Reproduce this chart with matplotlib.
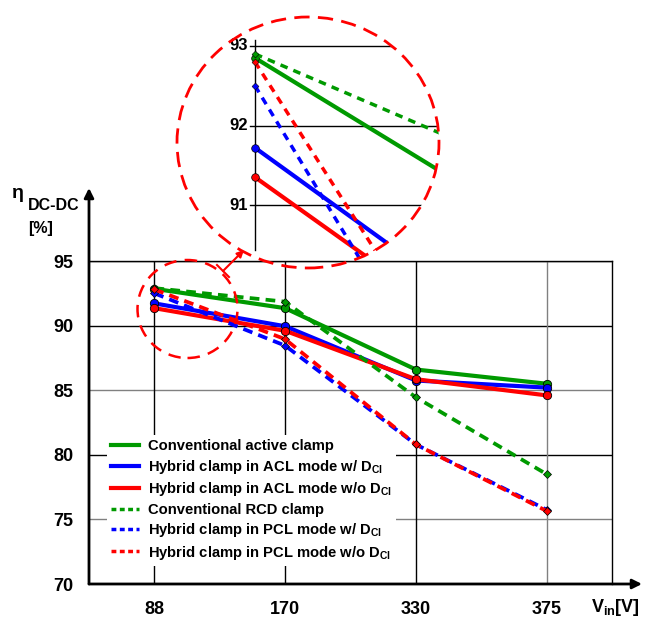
import matplotlib
matplotlib.use("Agg")
import matplotlib.pyplot as plt
from matplotlib.lines import Line2D
from matplotlib.patches import Ellipse, FancyArrowPatch
import numpy as np

plt.rcParams['font.family'] = ['Liberation Sans', 'DejaVu Sans']
plt.rcParams['font.weight'] = 'bold'
plt.rcParams['mathtext.fontset'] = 'custom'
plt.rcParams['mathtext.rm'] = 'Liberation Sans:bold'
plt.rcParams['mathtext.bf'] = 'Liberation Sans:bold'
plt.rcParams['mathtext.it'] = 'Liberation Sans:bold'
plt.rcParams['mathtext.default'] = 'rm'
plt.rcParams['lines.scale_dashes'] = False

# ---------------- data ----------------
categories = ['88', '170', '330', '375']
conv_active = [92.85, 91.35, 86.6, 85.5]
hyb_acl_w = [91.72, 89.95, 85.75, 85.2]
hyb_acl_wo = [91.35, 89.6, 85.85, 84.6]
conv_rcd = [92.9, 91.85, 84.45, 78.5]
hyb_pcl_w = [92.5, 88.45, 80.8, 75.75]
hyb_pcl_wo = [92.8, 88.95, 80.8, 75.65]
yticks = [70, 75, 80, 85, 90, 95]
inset_ticks = [91, 92, 93]

labels = ['Conventional active clamp',
          r'Hybrid clamp in ACL mode w/ D$_{Cl}$',
          r'Hybrid clamp in ACL mode w/o D$_{Cl}$',
          'Conventional RCD clamp',
          r'Hybrid clamp in PCL mode w/ D$_{Cl}$',
          r'Hybrid clamp in PCL mode w/o D$_{Cl}$']

GREEN = '#009A00'
BLUE = '#0000FF'
RED = '#FF0000'

W, H = 646, 619
fig = plt.figure(figsize=(W / 100, H / 100), dpi=100)


def fx(px):
    return px / W


def fy(py):
    return 1 - py / H


# ---------------- main axes ----------------
L, R, T, B = 89, 612, 261, 584
ax = fig.add_axes([fx(L), fy(B), fx(R) - fx(L), fy(T) - fy(B)])
x = np.arange(len(categories))
ax.set_xlim(-0.5, 3.5)
ax.set_ylim(70, 95)

# grid
grid_gray = '#808080'
for yv in yticks[1:]:
    c = grid_gray if yv in (75, 85) else 'black'
    ax.axhline(yv, color=c, lw=1.0, zorder=1)
for i in x:
    c = grid_gray if i == 3 else 'black'
    ax.axvline(i, color=c, lw=1.0, zorder=1)

for s in ['left', 'bottom']:
    ax.spines[s].set_visible(False)
ax.spines['top'].set_linewidth(1.0)
ax.spines['right'].set_linewidth(1.0)
ax.tick_params(length=0, labelsize=13, pad=0)
ax.set_xticks(x)
ax.set_xticklabels(categories, fontsize=13, fontweight='bold')
ax.set_yticks(yticks)
ax.set_yticklabels([str(v) for v in yticks], fontsize=13, fontweight='bold')
ax.tick_params(axis='x', pad=12)
ax.tick_params(axis='y', pad=11)

solid_kw = dict(lw=3.0, marker='o', ms=6, mec='black', mew=0.6, solid_capstyle='butt')
dash_kw = dict(lw=2.7, marker='D', ms=4.2, mec='black', mew=0.5, dashes=(7.0, 4.5),
               dash_capstyle='butt')

series = [
    (conv_active, GREEN, solid_kw),
    (hyb_acl_w, BLUE, solid_kw),
    (hyb_acl_wo, RED, solid_kw),
    (conv_rcd, GREEN, dash_kw),
    (hyb_pcl_w, BLUE, dash_kw),
    (hyb_pcl_wo, RED, dash_kw),
]
for vals, col, kw in series:
    ax.plot(x, vals, color=col, mfc=col, zorder=3, clip_on=False, **kw)

# axis arrows
arrow_kw = dict(arrowstyle='-|>', lw=2.0, color='black', mutation_scale=14, shrinkA=0, shrinkB=0)
fig.add_artist(FancyArrowPatch((fx(L), fy(B)), (fx(L), fy(188)),
                               transform=fig.transFigure, **arrow_kw))
fig.add_artist(FancyArrowPatch((fx(L), fy(B)), (fx(642), fy(B)),
                               transform=fig.transFigure, **arrow_kw))

# axis labels
fig.text(fx(12), fy(193), 'η', fontsize=14, fontweight='bold', ha='left', va='center')
fig.text(fx(28), fy(205), 'DC-DC', fontsize=11.5, fontweight='bold', ha='left', va='center')
fig.text(fx(28), fy(228), '[%]', fontsize=11.5, fontweight='bold', ha='left', va='center')
fig.text(fx(591), fy(607), r'V$_{in}$[V]', fontsize=13, fontweight='bold', ha='left', va='center')

# legend
handles = []
for i, (vals, col, kw) in enumerate(series):
    if i < 3:
        handles.append(Line2D([], [], color=col, lw=3.0))
    else:
        handles.append(Line2D([], [], color=col, lw=2.5, dashes=(3.5, 2.5)))
leg = ax.legend(handles, labels, loc='upper left',
                bbox_to_anchor=(fx(107), fy(435)), bbox_transform=fig.transFigure,
                prop={'family': 'Liberation Sans', 'weight': 'bold', 'size': 10.6},
                frameon=True, fancybox=False, framealpha=1, facecolor='white',
                edgecolor='none', handlelength=1.9, handletextpad=0.6,
                labelspacing=0.3, borderpad=0.3, borderaxespad=0)
leg.set_zorder(5)

# ---------------- small circle & link arrow ----------------
fig.add_artist(Ellipse((fx(187.5), fy(309)), 2 * 50 / W, 2 * 49 / H, transform=fig.transFigure,
                       fill=False, edgecolor=RED, lw=1.8, linestyle=(0, (9, 6)), zorder=6))
fig.add_artist(FancyArrowPatch((fx(223), fy(271)), (fx(244), fy(250)),
                               transform=fig.transFigure,
                               arrowstyle='-|>', lw=1.5, color=RED,
                               mutation_scale=10, shrinkA=0, shrinkB=0, zorder=6))
fig.add_artist(Line2D([fx(217), fx(229)], [fy(265), fy(277)], transform=fig.transFigure,
                      color=RED, lw=1.5, zorder=6))

# ---------------- magnified inset ----------------
cx, cy, rx, ry = 308, 142.5, 131, 125.5
ex0, ex1, ey0, ey1 = cx - rx, cx + rx, cy - ry, cy + ry
ins = fig.add_axes([fx(ex0), fy(ey1), fx(ex1) - fx(ex0), fy(ey0) - fy(ey1)])
ins.set_facecolor('none')
ins.set_axis_off()
px_per_cat = 195.0
x0px = 255.0
ins.set_xlim((ex0 - x0px) / px_per_cat, (ex1 - x0px) / px_per_cat)
py93, px_per_unit = 46.0, 79.5
ins.set_ylim(93 - (ey1 - py93) / px_per_unit, 93 - (ey0 - py93) / px_per_unit)

clip = Ellipse((fx(cx), fy(cy)), 2 * rx / W, 2 * ry / H, transform=fig.transFigure)

for t in inset_ticks:
    ln, = ins.plot([-0.025, 2], [t, t], color='black', lw=1.0, zorder=1)
    ln.set_clip_path(clip)
    ins.text(-0.035, t, str(t), fontsize=12, fontweight='bold', ha='right', va='center')
vline, = ins.plot([0, 0], [93.075, 90.43], color='black', lw=1.0, zorder=1)

ins_solid = dict(lw=3.0, marker='o', ms=5.5, mec='black', mew=0.5, solid_capstyle='butt')
ins_dash = dict(lw=2.5, marker='D', ms=3.5, mec='black', mew=0.4, dashes=(5.5, 4.5),
                dash_capstyle='butt')
for i, (vals, col, kw) in enumerate(series):
    k = ins_solid if i < 3 else ins_dash
    ln, = ins.plot(x, vals, color=col, mfc=col, zorder=3, **k)
    ln.set_clip_path(clip)

fig.add_artist(Ellipse((fx(cx), fy(cy)), 2 * rx / W, 2 * ry / H, transform=fig.transFigure,
                       fill=False, edgecolor=RED, lw=2.0, linestyle=(0, (11, 6)), zorder=6))

fig.savefig('out.png', dpi=100)
